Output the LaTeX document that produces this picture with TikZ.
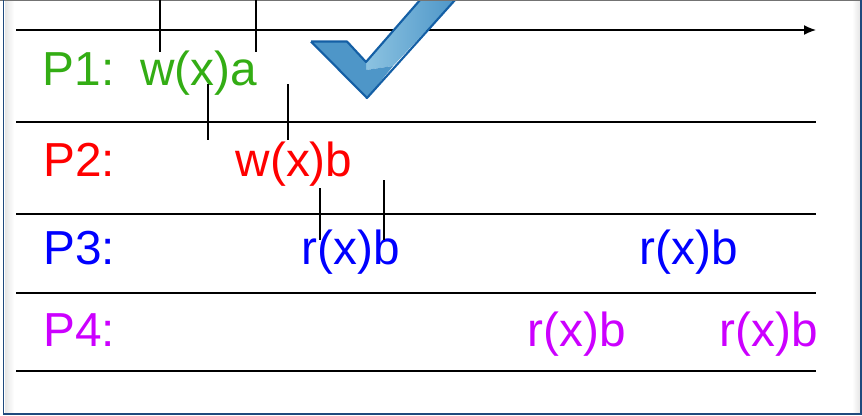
\documentclass[tikz,border=0pt]{standalone}
\usepackage{fontspec}
\setmainfont{Liberation Sans}
\usetikzlibrary{arrows.meta}
\definecolor{ponegreen}{RGB}{51, 173, 20}
\definecolor{pfourpurple}{RGB}{204, 0, 255}
\definecolor{frameblue}{RGB}{31, 73, 125}
\definecolor{checkblue}{RGB}{20, 95, 165}
\definecolor{checklight}{RGB}{140, 195, 225}
\definecolor{checkmid}{RGB}{78, 150, 200}

\begin{document}
\begin{tikzpicture}[
  x=0.75pt, y=-0.75pt,
  timeline/.style={line width=1.1pt, black},
  tick/.style={line width=1pt, black},
  oplabel/.style={anchor=base, inner sep=0pt, font=\fontsize{35.8pt}{40pt}\selectfont}
]
  \useasboundingbox (0, 0) rectangle (862, 415);
  \fill[white] (0, 0) rectangle (862, 415);

  % slide edges
  \shade[left color=black!10, right color=white] (5, 0) rectangle (14, 412);
  \shade[left color=white, right color=black!10] (852, 0) rectangle (860, 412);
  \draw[black!55, line width=1pt] (0, 0.5) -- (862, 0.5);
  \draw[frameblue, line width=1.3pt] (3.5, 0) -- (3.5, 414) -- (861, 414) -- (861, 0);

  % time axis and separators
  \coordinate (axisL) at (16, 30);
  \coordinate (axisR) at (816, 30);
  \coordinate (sepAL) at (16, 122);
  \coordinate (sepAR) at (816, 122);
  \coordinate (sepBL) at (16, 214);
  \coordinate (sepBR) at (816, 214);
  \coordinate (sepCL) at (16, 293);
  \coordinate (sepCR) at (816, 293);
  \coordinate (sepDL) at (16, 371);
  \coordinate (sepDR) at (816, 371);
  \draw[timeline, -{Latex[length=9pt, width=7.5pt]}] (axisL) -- (axisR);
  \draw[timeline] (sepAL) -- (sepAR);
  \draw[timeline] (sepBL) -- (sepBR);
  \draw[timeline] (sepCL) -- (sepCR);
  \draw[timeline] (sepDL) -- (sepDR);

  % check mark
  \begin{scope}
    \clip (0, 1) rectangle (862, 415);
    \shade[left color=checklight, right color=checkmid] (366, 62) -- (420, 0) -- (455, 0) -- (393, 66) -- (366, 70) -- cycle;
    \fill[checkmid] (311, 41.5) -- (347, 41.5) -- (366, 62) -- (366, 70) -- (393, 66) -- (367, 98) -- cycle;
    \draw[checkblue, line width=1.6pt, line join=round] (311, 41.5) -- (347, 41.5) -- (366, 62) -- (420, 0) (455, 0) -- (367, 98) -- (311, 41.5);
  \end{scope}

  % labels
  \node[oplabel, ponegreen] (pone) at (78.5, 85) {P1:};
  \node[oplabel, ponegreen] (wxa) at (198.5, 85) {w(x)a};
  \node[oplabel, red] (ptwo) at (79, 176) {P2:};
  \node[oplabel, red] (wxb) at (294, 176) {w(x)b};
  \node[oplabel, blue] (pthree) at (79, 264) {P3:};
  \node[oplabel, blue] (rxbA) at (350.5, 264) {r(x)b};
  \node[oplabel, blue] (rxbB) at (688.5, 264) {r(x)b};
  \node[oplabel, pfourpurple] (pfour) at (79, 346) {P4:};
  \node[oplabel, pfourpurple] (rxbC) at (576.5, 346) {r(x)b};
  \node[oplabel, pfourpurple] (rxbD) at (768.5, 346) {r(x)b};

  % operation intervals
  \coordinate (wxaAT) at (160, 0);
  \coordinate (wxaAB) at (160, 52);
  \coordinate (wxaBT) at (256, 0);
  \coordinate (wxaBB) at (256, 52);
  \coordinate (wxbAT) at (208, 84);
  \coordinate (wxbAB) at (208, 140);
  \coordinate (wxbBT) at (288, 84);
  \coordinate (wxbBB) at (288, 140);
  \coordinate (rxbAT) at (320, 188);
  \coordinate (rxbAB) at (320, 240);
  \coordinate (rxbBT) at (384, 180);
  \coordinate (rxbBB) at (384, 240);
  \draw[tick] (wxaAT) -- (wxaAB);
  \draw[tick] (wxaBT) -- (wxaBB);
  \draw[tick] (wxbAT) -- (wxbAB);
  \draw[tick] (wxbBT) -- (wxbBB);
  \draw[tick] (rxbAT) -- (rxbAB);
  \draw[tick] (rxbBT) -- (rxbBB);
\end{tikzpicture}
\end{document}
